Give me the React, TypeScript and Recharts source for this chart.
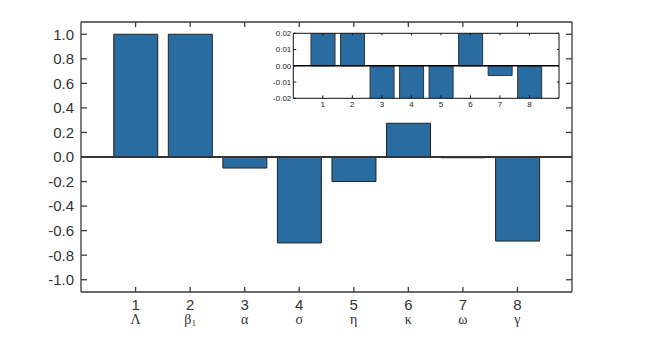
import React from 'react';
import { BarChart, Bar, XAxis, YAxis, ReferenceLine, CartesianGrid } from 'recharts';

const categories = ['1', '2', '3', '4', '5', '6', '7', '8'];
const greekLabels = ['Λ', 'β', 'α', 'σ', 'η', 'κ', 'ω', 'γ'];
const greekSubscripts = ['', '1', '', '', '', '', '', ''];
const values = [1.0, 1.0, -0.09, -0.7, -0.2, 0.275, -0.006, -0.685];
const mainTicks = [-1.0, -0.8, -0.6, -0.4, -0.2, 0.0, 0.2, 0.4, 0.6, 0.8, 1.0];
const insetTicks = [-0.02, -0.01, 0.0, 0.01, 0.02];

const data = categories.map((c, i) => ({ cat: c, value: values[i], greek: greekLabels[i], sub: greekSubscripts[i] }));

const SANS = 'Liberation Sans, Arial, sans-serif';
const SERIF = 'Liberation Serif, Times New Roman, serif';
const BAR_FILL = '#286ca1';
const FRAME = '#3a3a3a';

const Empty = () => null;

const MainBottomTick = (props: any) => {
  const { x, y, index } = props;
  const d = data[index];
  return (
    <g>
      <text x={x} y={y + 18} textAnchor="middle" fontFamily={SANS} fontSize={15} fill="#333">
        {d.cat}
      </text>
      <text x={x} y={y + 32} textAnchor="middle" fontFamily={SERIF} fontSize={14} fill="#333">
        {d.greek}
        {d.sub ? <tspan fontSize={9} dy={2}>{d.sub}</tspan> : null}
      </text>
    </g>
  );
};

export default function App() {
  return (
    <div style={{ position: 'absolute', left: 0, top: 0, width: 651, height: 337, background: '#fff' }}>
      <div style={{ position: 'absolute', left: 0, top: 0 }}>
        <BarChart
          width={651}
          height={337}
          data={data}
          margin={{ top: 21, right: 69, bottom: 5, left: 21 }}
          barCategoryGap="10%"
        >
          <XAxis
            xAxisId="bottom"
            dataKey="cat"
            orientation="bottom"
            height={40}
            padding={{ left: 27.3, right: 27.3 }}
            stroke={FRAME}
            strokeWidth={1.3}
            tickSize={-5}
            tickMargin={5}
            tick={<MainBottomTick />}
            interval={0}
          />
          <XAxis
            xAxisId="top"
            dataKey="cat"
            orientation="top"
            height={1}
            padding={{ left: 27.3, right: 27.3 }}
            stroke={FRAME}
            strokeWidth={1.3}
            tickSize={-5}
            tick={<Empty />}
            interval={0}
          />
          <YAxis
            yAxisId="left"
            orientation="left"
            width={60}
            domain={[-1.1, 1.1]}
            ticks={mainTicks}
            allowDataOverflow
            stroke={FRAME}
            strokeWidth={1.3}
            tickSize={-6}
            tickMargin={13}
            tickFormatter={(v: number) => v.toFixed(1)}
            tick={{ fontFamily: SANS, fontSize: 15, fill: '#333' }}
            interval={0}
          />
          <YAxis
            yAxisId="right"
            orientation="right"
            width={10}
            domain={[-1.1, 1.1]}
            ticks={mainTicks}
            allowDataOverflow
            stroke={FRAME}
            strokeWidth={1.3}
            tickSize={-6}
            tick={<Empty />}
            interval={0}
          />
          <Bar
            xAxisId="bottom"
            yAxisId="left"
            dataKey="value"
            fill={BAR_FILL}
            stroke="#222"
            strokeWidth={1}
            isAnimationActive={false}
          />
          <ReferenceLine xAxisId="bottom" yAxisId="left" y={0} stroke="#333" strokeWidth={2} />
        </BarChart>
      </div>
      <div style={{ position: 'absolute', left: 255, top: 25 }}>
        <BarChart
          width={310}
          height={90}
          data={data}
          margin={{ top: 7.3, right: 5, bottom: 2.7, left: 2.3 }}
          barCategoryGap="10%"
        >
          <CartesianGrid xAxisId="bottom" yAxisId="left" horizontal={false} vertical={false} fill="#fff" />
          <XAxis
            xAxisId="bottom"
            dataKey="cat"
            orientation="bottom"
            height={14}
            padding={{ left: 14.76, right: 14.76 }}
            stroke="#111"
            strokeWidth={1}
            tickSize={-3}
            tickMargin={6}
            tick={{ fontFamily: SANS, fontSize: 8, fill: '#222' }}
            interval={0}
          />
          <XAxis
            xAxisId="top"
            dataKey="cat"
            orientation="top"
            height={1}
            padding={{ left: 14.76, right: 14.76 }}
            stroke="#111"
            strokeWidth={1}
            tickSize={-2}
            tick={<Empty />}
            interval={0}
          />
          <YAxis
            yAxisId="left"
            orientation="left"
            width={36}
            domain={[-0.02, 0.02]}
            ticks={insetTicks}
            allowDataOverflow
            stroke="#111"
            strokeWidth={1}
            tickSize={-3}
            tickMargin={5}
            tickFormatter={(v: number) => v.toFixed(2)}
            tick={{ fontFamily: SANS, fontSize: 8, fill: '#222' }}
            interval={0}
          />
          <YAxis
            yAxisId="right"
            orientation="right"
            width={1}
            domain={[-0.02, 0.02]}
            ticks={insetTicks}
            allowDataOverflow
            stroke="#111"
            strokeWidth={1}
            tickSize={-2}
            tick={<Empty />}
            interval={0}
          />
          <Bar
            xAxisId="bottom"
            yAxisId="left"
            dataKey="value"
            fill={BAR_FILL}
            stroke="#333"
            strokeWidth={1}
            isAnimationActive={false}
          />
          <ReferenceLine xAxisId="bottom" yAxisId="left" y={0} stroke="#000" strokeWidth={1.5} />
        </BarChart>
      </div>
    </div>
  );
}
